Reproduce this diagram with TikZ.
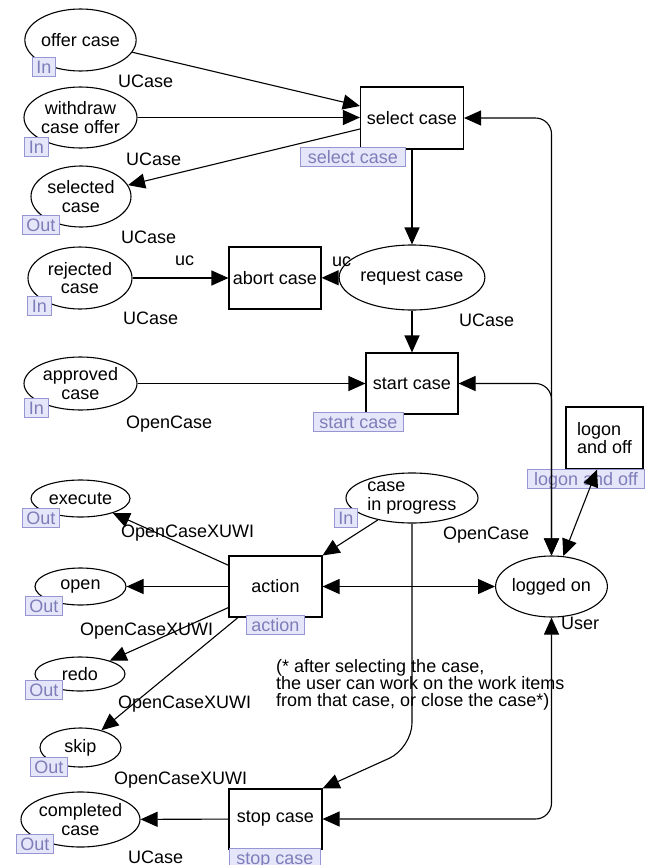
\documentclass[tikz,border=0pt]{standalone}
\usepackage{fontspec}
\setmainfont{Liberation Sans}
\usetikzlibrary{arrows.meta,shapes.geometric,calc}

\definecolor{tagfill}{RGB}{230,230,250}
\definecolor{tagline}{RGB}{150,150,210}
\definecolor{tagtext}{RGB}{125,125,185}

\begin{document}
\begin{tikzpicture}[
  x=1pt, y=-1pt,
  font=\fontsize{18}{18.3}\selectfont,
  place/.style={ellipse, draw, fill=white, line width=1.1pt, inner sep=0pt, align=center},
  trans/.style={rectangle, draw, fill=white, line width=1.1pt, inner sep=0pt, align=center},
  porttag/.style={draw=tagline, fill=tagfill, text=tagtext, line width=0.8pt,
    inner xsep=0pt, inner ysep=1.2pt, text height=15pt, text depth=1.5pt,
    anchor=north west},
  lbl/.style={inner sep=0pt, anchor=base west},
  tip/.tip={Triangle[length=17pt,width=15pt]},
  arc/.style={line width=1.1pt, -tip},
  biarc/.style={line width=1.1pt, tip-tip},
]
\useasboundingbox (0,0) rectangle (646,865);

% places
\node[place, minimum width=91,  minimum height=62] (offer)     at (80.5,40)    {offer case};
\node[place, minimum width=113, minimum height=61] (withdraw)  at (80.5,117.5) {withdraw\\case offer};
\node[place, minimum width=100, minimum height=61] (selcase)   at (81,196.5)   {selected\\case};
\node[place, minimum width=104, minimum height=62] (rejected)  at (80,278)     {rejected\\case};
\node[place, minimum width=113, minimum height=53] (approved)  at (80.5,383.5) {approved\\case};
\node[place, minimum width=122, minimum height=65] (request)   at (412,277.5)  {request case};
\node[place, minimum width=132, minimum height=50, align=left] (progress) at (412,498) {case\\in progress};
\node[place, minimum width=91,  minimum height=61] (logged)    at (551.5,586.5) {logged on};
\node[place, minimum width=99,  minimum height=37] (execute)   at (80.5,498.5) {execute};
\node[place, minimum width=91,  minimum height=37] (open)      at (80.5,586.5) {open};
\node[place, minimum width=90,  minimum height=34] (redo)      at (80,674)     {redo};
\node[place, minimum width=81,  minimum height=39] (skip)      at (80.5,747.5) {skip};
\node[place, minimum width=119, minimum height=55] (completed) at (80.5,819.5) {completed\\case};

% transitions
\node[trans, minimum width=103, minimum height=62] (select) at (412,118)     {select case};
\node[trans, minimum width=92,  minimum height=62] (abort)  at (275,278)     {abort case};
\node[trans, minimum width=92,  minimum height=61] (start)  at (412,383.5)   {start case};
\node[trans, minimum width=77,  minimum height=62, align=left] (logon) at (604.5,438) {logon\\and off};
\node[trans, minimum width=93,  minimum height=61] (action) at (275.5,586.5) {action};
\node[trans, minimum width=93,  minimum height=60] (stop)   at (275.5,819)   {stop case};

% port and substitution tags
\node[porttag, minimum width=23]  (tOffer)    at (32,57)   {In};
\node[porttag, minimum width=24]  (tWithdraw) at (24,137)  {In};
\node[porttag, minimum width=37]  (tSelcase)  at (22,215)  {Out};
\node[porttag, minimum width=24]  (tRejected) at (27,296)  {In};
\node[porttag, minimum width=24]  (tApproved) at (24,398)  {In};
\node[porttag, minimum width=105] (tSelect)   at (300,147) {select case};
\node[porttag, minimum width=90]  (tStart)    at (313,412) {start case};
\node[porttag, minimum width=23]  (tProgress) at (334,508) {In};
\node[porttag, minimum width=117] (tLogon)    at (527,469) {logon and off};
\node[porttag, minimum width=37]  (tExecute)  at (22,508)  {Out};
\node[porttag, minimum width=37]  (tOpen)     at (25,596)  {Out};
\node[porttag, minimum width=37]  (tRedo)     at (25,680)  {Out};
\node[porttag, minimum width=58]  (tAction)   at (246,615) {action};
\node[porttag, minimum width=37]  (tSkip)     at (30,757)  {Out};
\node[porttag, minimum width=37]  (tCompleted) at (16,834) {Out};
\node[porttag, minimum width=91]  (tStop)     at (229,848) {stop case};

% arcs
\draw[arc] (offer) -- ([yshift=12pt]select.west);
\draw[arc] (withdraw.east) -- (withdraw.east -| select.west);
\draw[arc] ([yshift=-11pt]select.west) -- (selcase);
\draw[arc] (select) -- (request);
\draw[arc] (request) -- (abort);
\draw[arc] (rejected) -- (abort);
\draw[arc] (request) -- (start);
\draw[arc] (approved) -- (start);
\draw[biarc, rounded corners=16pt] (logged.north) |- (select.east);
\draw[biarc, rounded corners=16pt] (logged.north) |- (start.east);
\draw[biarc, rounded corners=16pt] (logged.south) |- (stop.east);
\draw[biarc] (logged) -- ([xshift=-7.5pt]logon.south);
\draw[arc] (progress) -- (action.north east);
\draw[biarc] (action) -- (logged);
\draw[arc, rounded corners=25pt] (progress.south) -- (progress.south |- 0,748) -- (stop.north east);
\draw[arc] (action) -- (execute);
\draw[arc] (action) -- (open);
\draw[arc] (action) -- (redo);
\draw[arc] (action) -- (skip);
\draw[arc] (stop) -- (completed);

% inscriptions
\node[lbl] (l1)  at (118,87)  {UCase};
\node[lbl] (l2)  at (126,165) {UCase};
\node[lbl] (l3)  at (121,243) {UCase};
\node[lbl] (l4)  at (175,265) {uc};
\node[lbl] (l5)  at (332,266) {uc};
\node[lbl] (l6)  at (123,324) {UCase};
\node[lbl] (l7)  at (459,326) {UCase};
\node[lbl] (l8)  at (126,428) {OpenCase};
\node[lbl] (l9)  at (443,539) {OpenCase};
\node[lbl] (l10) at (561,629) {User};
\node[lbl] (l11) at (121,537) {OpenCaseXUWI};
\node[lbl] (l12) at (80,635)  {OpenCaseXUWI};
\node[lbl] (l13) at (118,708) {OpenCaseXUWI};
\node[lbl] (l14) at (114,784) {OpenCaseXUWI};
\node[lbl] (l15) at (128,863) {UCase};

% comment
\node[inner sep=0pt, anchor=north west, align=left,
      font=\fontsize{18}{17}\selectfont] (note) at (276,659)
  {(* after selecting the case,\\the user can work on the work items\\from that case, or close the case*)};
\end{tikzpicture}
\end{document}
